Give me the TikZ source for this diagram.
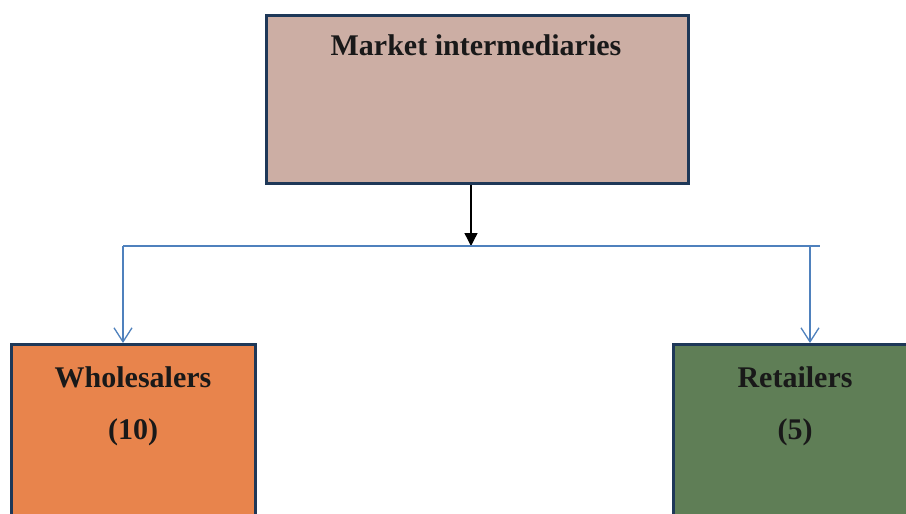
\documentclass[tikz,border=0pt]{standalone}
\usepackage{fontspec}
\setmainfont{Liberation Serif}
\usetikzlibrary{arrows.meta}
\definecolor{boxborder}{HTML}{1E3858}
\definecolor{topfill}{HTML}{CCAEA4}
\definecolor{wholefill}{HTML}{E8844C}
\definecolor{retfill}{HTML}{5F7E56}
\definecolor{linkblue}{HTML}{4F81BD}
\tikzset{
  boxstyle/.style={draw=boxborder, line width=3.2pt, inner sep=0pt},
  lbl/.style={font=\bfseries\fontsize{30}{34}\selectfont, inner sep=0pt, text=black!90},
  bluelink/.style={draw=linkblue, line width=1.3pt},
  openhead/.style={-{Straight Barb[length=14pt,width=18pt,line width=1.3pt]}}
}
\begin{document}
\begin{tikzpicture}[x=1pt,y=-1pt]
\useasboundingbox (0,0) rectangle (906,514);
\clip (0,0) rectangle (906,514);
\fill[white] (0,0) rectangle (906,514);
% boxes
\node[boxstyle, fill=topfill, minimum width=422pt, minimum height=168pt, anchor=north west] (top) at (265,14) {};
\node[boxstyle, fill=wholefill, minimum width=244pt, minimum height=200pt, anchor=north west] (whole) at (10,343) {};
\node[boxstyle, fill=retfill, minimum width=260pt, minimum height=200pt, anchor=north west] (ret) at (672,343) {};
% texts
\node[lbl] (toptxt) at (476,45) {Market intermediaries};
\node[lbl] (wtxt) at (133,377) {Wholesalers};
\node[lbl] (wnum) at (133,432) {(10)};
\node[lbl] (rtxt) at (795,377) {Retailers};
\node[lbl] (rnum) at (795,432) {(5)};
% connectors
\coordinate (bus) at (471,246);
\coordinate (busL) at (123,246);
\coordinate (busR) at (810,246);
\coordinate (busEnd) at (820,246);
\draw[line width=1.4pt, -{Triangle[length=13pt,width=13pt]}] (top.south -| bus) -- (bus);
\draw[bluelink] (busL) -- (busEnd);
\draw[bluelink, openhead] (busL) -- (busL |- whole.north);
\draw[bluelink, openhead] (busR) -- (busR |- ret.north);
\end{tikzpicture}
\end{document}
